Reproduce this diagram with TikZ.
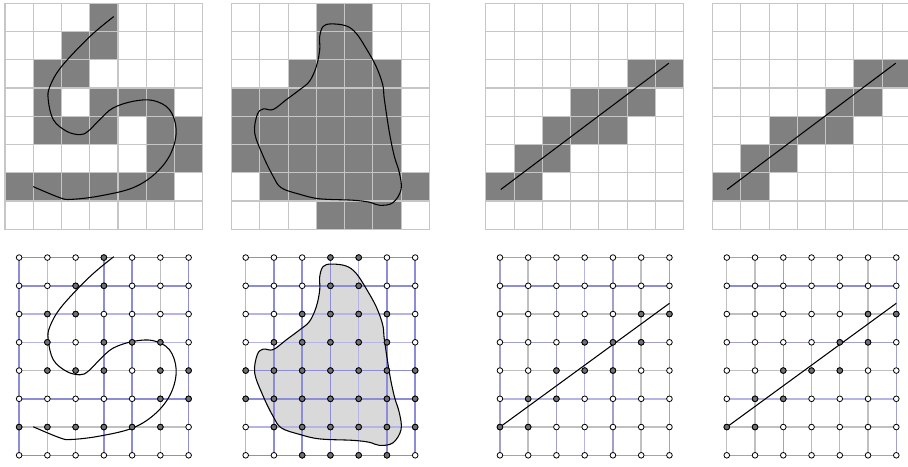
\documentclass[tikz,border=0pt]{standalone}
\usepackage{xcolor}
\definecolor{cellgray}{RGB}{128,128,128}
\definecolor{gridgray}{RGB}{198,198,198}
\definecolor{lB}{RGB}{140,140,215}
\definecolor{lL}{RGB}{180,180,230}
\definecolor{lP}{RGB}{160,160,200}
\definecolor{lG}{RGB}{192,192,192}
\definecolor{dotfill}{RGB}{112,112,112}
\definecolor{blobfill}{RGB}{217,217,217}
\newcommand\curveS{plot[smooth,tension=0.6] coordinates {(3.85,0.47) (3.0,1.18) (2.0,2.24) (1.59,2.94) (1.53,3.41) (1.71,4.12) (2.18,4.53) (2.65,4.65) (2.94,4.53) (3.35,4.12) (3.82,3.71) (4.53,3.47) (5.24,3.44) (5.82,3.76) (6.06,4.47) (5.88,5.29) (5.35,6.0) (4.53,6.53) (3.35,6.82) (2.35,6.94) (1.94,6.88) (1.0,6.49)}}
\newcommand\curveB{plot[smooth cycle,tension=0.6] coordinates {(3.53,0.73) (3.24,0.82) (3.12,1.18) (3.12,1.65) (3.0,2.24) (2.76,2.76) (2.41,3.06) (1.94,3.41) (1.47,3.76) (1.12,3.74) (0.91,3.94) (0.82,4.59) (1.12,5.41) (1.47,6.12) (1.76,6.53) (2.41,6.76) (3.12,6.92) (4.29,6.97) (4.88,7.04) (5.24,7.15) (5.71,7.06) (6.0,6.59) (5.94,6.0) (5.76,5.41) (5.59,4.59) (5.41,3.41) (5.35,2.88) (5.12,2.24) (4.76,1.59) (4.41,1.06) (4.06,0.80)}}
\newcommand\TopPanel[2]{%
  \begin{scope}[shift={(#1,0)}]
    \foreach \c/\r in {#2} {\fill[cellfill] (\c,\r) rectangle ++(1,1);}
    \foreach \i in {0,...,7} {\draw[topgrid] (\i,0) -- (\i,8);}
    \foreach \j in {0,...,8} {\draw[topgrid] (0,\j) -- (7,\j);}
  \end{scope}}
\newcommand\BotGrid[3]{%
  \begin{scope}[shift={(#1+0.5,9)}]
    \foreach \cl [count=\i from 0] in {#2} {\draw[botline,draw=\cl] (\i,0) -- (\i,7);}
    \foreach \cl [count=\j from 0] in {#3} {\draw[botline,draw=\cl] (0,\j) -- (6,\j);}
  \end{scope}}
\newcommand\BotDots[2]{%
  \begin{scope}[shift={(#1+0.5,9)}]
    \foreach \c in {0,...,6} {\foreach \r in {0,...,7} {\draw[opendot] (\c,\r) circle[radius=0.1];}}
    \foreach \c/\r in {#2} {\draw[darkdot] (\c,\r) circle[radius=0.1];}
  \end{scope}}
\begin{document}
\begin{tikzpicture}[x=21.19pt,y=-21.19pt,
  cellfill/.style={fill=cellgray},
  topgrid/.style={draw=gridgray,line width=0.85pt,line cap=rect},
  botline/.style={line width=1.05pt},
  curveline/.style={draw=black,line width=0.8pt},
  opendot/.style={draw=black,fill=white,line width=0.6pt},
  darkdot/.style={draw=black,fill=dotfill,line width=0.6pt}]
\useasboundingbox (-0.177,-0.117) rectangle (31.965,16.379);

% ---------- panel 1 ----------
\TopPanel{0}{3/0,2/1,3/1,1/2,2/2,1/3,3/3,4/3,5/3,1/4,2/4,3/4,5/4,6/4,5/5,6/5,0/6,1/6,2/6,3/6,4/6,5/6}
\draw[curveline] \curveS;
\BotGrid{0}{lB,lG,lL,lB,lB,lG,lB}{lB,lB,lL,lL,lG,lB,lG,lB}
\begin{scope}[shift={(0,8.5)}]
  \draw[curveline] \curveS;
\end{scope}
\BotDots{0}{3/0,2/1,3/1,1/2,2/2,1/3,3/3,4/3,5/3,1/4,2/4,3/4,5/4,6/4,5/5,6/5,0/6,1/6,2/6,3/6,4/6,5/6}

% ---------- panel 2 ----------
\TopPanel{8.02}{3/0,4/0,3/1,4/1,2/2,3/2,4/2,5/2,0/3,1/3,2/3,3/3,4/3,5/3,0/4,1/4,2/4,3/4,4/4,5/4,0/5,1/5,2/5,3/5,4/5,5/5,1/6,2/6,3/6,4/6,5/6,6/6,3/7,4/7,5/7}
\begin{scope}[shift={(8.02,0)}]
  \draw[curveline] \curveB;
\end{scope}
\begin{scope}[shift={(8.02,8.5)}]
  \fill[blobfill] \curveB;
\end{scope}
\BotGrid{8.02}{lL,lB,lB,lB,lL,lB,lB}{lB,lB,lL,lL,lB,lB,lL,lB}
\begin{scope}[shift={(8.02,8.5)}]
  \draw[curveline] \curveB;
\end{scope}
\BotDots{8.02}{3/0,4/0,3/1,4/1,2/2,3/2,4/2,5/2,1/3,2/3,3/3,4/3,5/3,0/4,1/4,2/4,3/4,4/4,5/4,6/4,0/5,1/5,2/5,3/5,4/5,5/5,6/5,1/6,2/6,3/6,4/6,5/6,6/6,2/7,3/7,4/7,5/7}

% ---------- panel 3 ----------
\TopPanel{17.02}{5/2,6/2,3/3,4/3,5/3,2/4,3/4,4/4,1/5,2/5,0/6,1/6}
\begin{scope}[shift={(17.02,0)}]
  \coordinate (p3a) at (0.53,6.59);
  \coordinate (p3b) at (6.48,2.12);
  \draw[curveline] (p3a) -- (p3b);
\end{scope}
\BotGrid{17.02}{lP,lG,lP,lL,lP,lG,lP}{lP,lB,lG,lP,lG,lL,lG,lP}
\begin{scope}[shift={(17.02,8.5)}]
  \coordinate (q3a) at (0.5,6.5);
  \coordinate (q3b) at (6.5,2.12);
  \draw[curveline] (q3a) -- (q3b);
\end{scope}
\BotDots{17.02}{5/2,6/2,3/3,4/3,5/3,2/4,3/4,4/4,1/5,2/5,0/6,1/6}

% ---------- panel 4 ----------
\TopPanel{25.05}{5/2,6/2,4/3,5/3,2/4,3/4,4/4,1/5,2/5,0/6,1/6}
\begin{scope}[shift={(25.05,0)}]
  \coordinate (p4a) at (0.51,6.59);
  \coordinate (p4b) at (6.48,2.12);
  \draw[curveline] (p4a) -- (p4b);
\end{scope}
\BotGrid{25.05}{lG,lG,lP,lL,lL,lG,lP}{lP,lB,lG,lP,lG,lL,lG,lP}
\begin{scope}[shift={(25.05,8.5)}]
  \coordinate (q4a) at (0.5,6.5);
  \coordinate (q4b) at (6.5,2.12);
  \draw[curveline] (q4a) -- (q4b);
\end{scope}
\BotDots{25.05}{5/2,6/2,4/3,5/3,2/4,3/4,4/4,1/5,2/5,0/6,1/6}
\end{tikzpicture}
\end{document}
